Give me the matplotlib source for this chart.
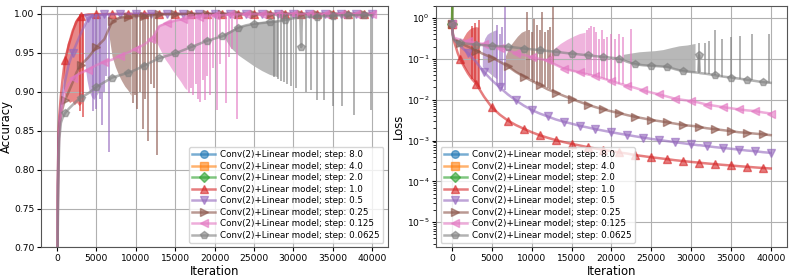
import matplotlib
matplotlib.use("Agg")
import matplotlib.pyplot as plt

STEPS = ["8.0", "4.0", "2.0", "1.0", "0.5", "0.25", "0.125", "0.0625"]
MARKERS = ["o", "s", "D", "^", "v", ">", "<", "p"]
COLORS = ["tab:blue", "tab:orange", "tab:green", "tab:red", "tab:purple",
          "tab:brown", "tab:pink", "tab:gray"]
# which thousands carry a marker (odd / even), None = only the first point
MARK_PARITY = [None, None, None, 1, 0, 1, 0, 1]

ITERS = [0, 100, 200, 300, 500, 700, 1000, 1500, 2000, 2500, 3000,
         4000, 5000, 6000, 7000, 8000, 9000, 10000, 11000, 12000, 13000,
         14000, 15000, 16000, 17000, 18000, 19000, 20000, 21000, 22000, 23000,
         24000, 25000, 26000, 27000, 28000, 29000, 30000, 30900, 31000, 31100,
         32000, 33000, 34000, 35000, 36000, 37000, 38000, 39000, 40000]

# diverged runs (step 8, 4, 2)
DIV_ITERS = [0, 100]
DIV_ACC = [0.10, 0.10]
DIV_LOSS = [0.7, 50.0]

# ---------------- accuracy ----------------
ACC_RED = [0.10, 0.78, 0.85, 0.87, 0.895, 0.915, 0.94, 0.96, 0.978, 0.99, 0.997,
           0.999, 0.9993, 0.9995, 0.9997, 0.9997, 0.9997, 0.9997, 0.9997, 0.9997, 0.9997,
           0.9997, 0.9997, 0.9997, 0.9997, 0.9997, 0.9997, 0.9997, 0.9997, 0.9997, 0.9997,
           0.9997, 0.9997, 0.9997, 0.9997, 0.9997, 0.9997, 0.9997, 0.9997, 0.9997, 0.9997,
           0.9997, 0.9997, 0.9997, 0.9997, 0.9997, 0.9997, 0.9997, 0.9997, 0.9997]
ACC_PURPLE = [0.10, 0.78, 0.84, 0.86, 0.88, 0.895, 0.912, 0.935, 0.95, 0.962, 0.974,
              0.995, 0.998, 0.999, 0.9993, 0.9995, 0.9997, 0.9997, 0.9997, 0.9997, 0.9997,
              0.9997, 0.9997, 0.9997, 0.9997, 0.9997, 0.9997, 0.9997, 0.9997, 0.9997, 0.9997,
              0.9997, 0.9997, 0.9997, 0.9997, 0.9997, 0.9997, 0.9997, 0.9997, 0.9997, 0.9997,
              0.9997, 0.9997, 0.9997, 0.9997, 0.9997, 0.9997, 0.9997, 0.9997, 0.9997]
ACC_BROWN = [0.10, 0.76, 0.83, 0.855, 0.87, 0.878, 0.889, 0.90, 0.912, 0.925, 0.934,
             0.944, 0.957, 0.967, 0.99, 0.995, 0.996, 0.997, 0.997, 0.998, 0.999,
             0.9993, 0.9995, 0.9995, 0.9995, 0.9995, 0.9995, 0.9995, 0.9995, 0.9995, 0.9995,
             0.9995, 0.9995, 0.9995, 0.9995, 0.9995, 0.9995, 0.9995, 0.9995, 0.9995, 0.9995,
             0.9995, 0.9995, 0.9995, 0.9995, 0.9995, 0.9995, 0.9995, 0.9995, 0.9995]
ACC_PINK = [0.10, 0.74, 0.82, 0.85, 0.87, 0.885, 0.90, 0.91, 0.917, 0.921, 0.924,
            0.928, 0.934, 0.938, 0.941, 0.946, 0.95, 0.955, 0.96, 0.967, 0.984,
            0.988, 0.991, 0.993, 0.995, 0.996, 0.997, 0.998, 0.998, 0.999, 0.9993,
            0.9995, 0.9995, 0.9995, 0.9995, 0.9995, 0.9995, 0.9995, 0.9995, 0.9995, 0.9995,
            0.9995, 0.9995, 0.9995, 0.9995, 0.9995, 0.9995, 0.9995, 0.9995, 0.9995]
ACC_GRAY = [0.10, 0.72, 0.80, 0.84, 0.86, 0.866, 0.872, 0.878, 0.883, 0.888, 0.892,
            0.898, 0.906, 0.912, 0.918, 0.921, 0.924, 0.928, 0.933, 0.938, 0.943,
            0.946, 0.949, 0.953, 0.957, 0.961, 0.965, 0.968, 0.971, 0.976, 0.982,
            0.985, 0.987, 0.988, 0.989, 0.99, 0.992, 0.994, 0.995, 0.957, 0.995,
            0.996, 0.996, 0.997, 0.997, 0.998, 0.998, 0.998, 0.998, 0.998]

# noisy phases: dense band (iteration, low, high) and single dips (iteration, tip)
ACC_BAND_IT = {
    3: [800, 1000, 1300, 1600, 1900, 2200, 2500, 2800, 3100, 3300],
    4: [3500, 3800, 4100, 4400, 4700, 5000, 5300, 5500],
    5: [6600, 7000, 7400, 7800, 8200, 8600, 9000, 9400],
    6: [12200, 12700, 13200, 13700, 14200, 14700, 15200, 15700, 16200, 16500],
    7: [21200, 22000, 23000, 24000, 25000, 26000, 27000, 28000],
}
ACC_BAND_LO = {
    3: [0.905, 0.895, 0.89, 0.886, 0.888, 0.883, 0.886, 0.882, 0.885, 0.893],
    4: [0.94, 0.915, 0.90, 0.893, 0.89, 0.895, 0.90, 0.91],
    5: [0.972, 0.945, 0.932, 0.922, 0.914, 0.907, 0.902, 0.895],
    6: [0.967, 0.962, 0.952, 0.942, 0.935, 0.927, 0.92, 0.913, 0.905, 0.902],
    7: [0.97, 0.957, 0.947, 0.94, 0.933, 0.927, 0.922, 0.919],
}
ACC_BAND_HI = {
    3: [0.93, 0.945, 0.962, 0.97, 0.98, 0.99, 0.995, 0.998, 0.999, 0.999],
    4: [0.985, 0.993, 0.997, 0.999, 1.0, 1.0, 1.0, 1.0],
    5: [0.985, 0.992, 0.995, 0.996, 0.997, 0.997, 0.998, 0.998],
    6: [0.97, 0.984, 0.987, 0.989, 0.99, 0.992, 0.993, 0.994, 0.995, 0.995],
    7: [0.975, 0.979, 0.984, 0.986, 0.988, 0.99, 0.991, 0.992],
}
ACC_SPK_IT = {
    3: [2950, 3350],
    4: [4600, 5000, 5400, 5700, 5950, 6200, 6550],
    5: [9600, 9900, 10200, 10500, 10900, 11200, 11550, 11900, 12300, 12750],
    6: [16700, 17000, 17300, 17600, 17900, 18200, 18500, 18800, 19100, 19400,
        19800, 20300, 20700, 21400, 21800, 22200, 22850],
    7: [27600, 28000, 28400, 28800, 29200, 29700, 30300, 31600, 32200, 33000,
        33900, 35000, 36200, 37700, 39900],
}
ACC_SPK_TIP = {
    3: [0.875, 0.868],
    4: [0.875, 0.878, 0.89, 0.857, 0.90, 0.92, 0.823],
    5: [0.885, 0.895, 0.878, 0.90, 0.852, 0.89, 0.837, 0.91, 0.905, 0.819],
    6: [0.898, 0.905, 0.895, 0.91, 0.89, 0.887, 0.915, 0.889, 0.92, 0.895,
        0.93, 0.876, 0.935, 0.885, 0.945, 0.955, 0.865],
    7: [0.919, 0.916, 0.914, 0.912, 0.91, 0.907, 0.905, 0.90, 0.902, 0.889,
        0.889, 0.882, 0.881, 0.87, 0.876],
}

# ---------------- loss ----------------
LOSS_RED = [0.7, 0.4, 0.3, 0.25, 0.19, 0.14, 0.1, 0.065, 0.044, 0.032, 0.025,
            0.012, 6.5e-3, 4.3e-3, 3.1e-3, 2.4e-3, 1.95e-3, 1.6e-3, 1.35e-3, 1.17e-3, 1.03e-3,
            9.2e-4, 8.3e-4, 7.6e-4, 6.9e-4, 6.4e-4, 5.9e-4, 5.5e-4, 5.1e-4, 4.8e-4, 4.4e-4,
            4.15e-4, 3.9e-4, 3.7e-4, 3.5e-4, 3.3e-4, 3.15e-4, 3.0e-4, 2.89e-4, 2.87e-4, 2.86e-4,
            2.75e-4, 2.64e-4, 2.54e-4, 2.45e-4, 2.36e-4, 2.28e-4, 2.2e-4, 2.13e-4, 2.07e-4]
LOSS_PURPLE = [0.7, 0.4, 0.32, 0.3, 0.27, 0.24, 0.21, 0.17, 0.14, 0.11, 0.085,
               0.048, 0.03, 0.02, 0.0135, 0.0097, 0.0072, 0.0056, 0.0046, 0.0039, 0.0033,
               0.0029, 0.0026, 0.0023, 0.0021, 0.0019, 0.00175, 0.0016, 0.00148, 0.00137, 0.00127,
               0.00118, 0.0011, 0.00103, 0.00097, 0.00091, 0.00086, 0.00081, 0.00077, 0.00077, 0.00077,
               0.00073, 0.00069, 0.00066, 0.00063, 0.0006, 0.00057, 0.00055, 0.00052, 0.0005]
LOSS_BROWN = [0.7, 0.4, 0.33, 0.31, 0.29, 0.27, 0.25, 0.22, 0.2, 0.18, 0.16,
              0.13, 0.108, 0.085, 0.066, 0.048, 0.037, 0.029, 0.023, 0.018, 0.015,
              0.0125, 0.0105, 0.0089, 0.0076, 0.0066, 0.0058, 0.0052, 0.0047, 0.0042, 0.0038,
              0.0035, 0.0032, 0.003, 0.0028, 0.0026, 0.0024, 0.0023, 0.0022, 0.00215, 0.00214,
              0.002, 0.0019, 0.0018, 0.0017, 0.0016, 0.00155, 0.00148, 0.00142, 0.00136]
LOSS_PINK = [0.7, 0.4, 0.34, 0.33, 0.32, 0.31, 0.3, 0.28, 0.27, 0.26, 0.25,
             0.23, 0.21, 0.19, 0.165, 0.14, 0.125, 0.112, 0.1, 0.092, 0.072,
             0.058, 0.052, 0.047, 0.042, 0.038, 0.033, 0.029, 0.025, 0.022, 0.0195,
             0.017, 0.015, 0.0135, 0.012, 0.0106, 0.0099, 0.0093, 0.0086, 0.0085, 0.0084,
             0.0076, 0.0071, 0.0066, 0.0062, 0.0058, 0.0055, 0.0053, 0.0049, 0.0046]
LOSS_GRAY = [0.7, 0.35, 0.3, 0.28, 0.26, 0.25, 0.245, 0.24, 0.235, 0.23, 0.225,
             0.218, 0.21, 0.205, 0.2, 0.19, 0.18, 0.172, 0.164, 0.157, 0.15,
             0.142, 0.135, 0.129, 0.123, 0.117, 0.112, 0.107, 0.102, 0.085, 0.074,
             0.07, 0.068, 0.066, 0.064, 0.056, 0.05, 0.048, 0.046, 0.123, 0.045,
             0.043, 0.04, 0.037, 0.035, 0.033, 0.031, 0.029, 0.027, 0.026]

LOSS_BAND_IT = {
    3: [900, 1200, 1500, 1800, 2100, 2400, 2700, 3000, 3300],
    4: [3800, 4100, 4400, 4700, 5000, 5300, 5600],
    5: [6700, 7200, 7700, 8200, 8700, 9200],
    6: [12000, 12800, 13600, 14400, 15200, 16000, 16700],
    7: [21500, 22500, 23500, 24500, 25500, 26500, 27500, 28500, 29500, 30500],
}
LOSS_BAND_LO = {
    3: [0.11, 0.08, 0.065, 0.052, 0.042, 0.035, 0.03, 0.025, 0.021],
    4: [0.065, 0.058, 0.05, 0.045, 0.04, 0.036, 0.033],
    5: [0.075, 0.062, 0.052, 0.045, 0.04, 0.035],
    6: [0.092, 0.075, 0.063, 0.056, 0.05, 0.047, 0.043],
    7: [0.095, 0.08, 0.072, 0.069, 0.067, 0.065, 0.06, 0.053, 0.049, 0.047],
}
LOSS_BAND_HI = {
    3: [0.2, 0.28, 0.36, 0.45, 0.52, 0.58, 0.6, 0.62, 0.6],
    4: [0.2, 0.32, 0.4, 0.44, 0.47, 0.5, 0.52],
    5: [0.12, 0.2, 0.27, 0.36, 0.45, 0.5],
    6: [0.12, 0.18, 0.24, 0.3, 0.36, 0.42, 0.45],
    7: [0.13, 0.14, 0.15, 0.155, 0.16, 0.17, 0.19, 0.21, 0.22, 0.24],
}
LOSS_SPK_IT = {
    3: [2500, 2900, 3350],
    4: [5700, 6000, 6300, 6600],
    5: [9400, 9700, 10000, 10300, 10700, 11000, 11300, 11700, 12000, 12300, 12700],
    6: [16900, 17200, 17500, 17800, 18100, 18500, 18800, 19100, 19500, 19900,
        20400, 21000, 21500, 22400],
    7: [31000, 31700, 32300, 33000, 33900, 35000, 36200, 37700, 39800],
}
LOSS_SPK_BASE = {
    3: [0.033, 0.027, 0.02],
    4: [0.026, 0.022, 0.019, 0.017],
    5: [0.034, 0.032, 0.03, 0.028, 0.026, 0.024, 0.022, 0.02, 0.019, 0.018, 0.016],
    6: [0.042, 0.041, 0.04, 0.039, 0.037, 0.036, 0.035, 0.033, 0.031, 0.029,
        0.027, 0.025, 0.024, 0.021],
    7: [0.045, 0.044, 0.042, 0.04, 0.037, 0.035, 0.032, 0.03, 0.026],
}
LOSS_SPK_TIP = {
    3: [0.65, 0.75, 0.9],
    4: [0.67, 0.42, 0.6, 1.9],
    5: [1.4, 0.5, 0.45, 0.95, 0.67, 0.5, 1.4, 0.45, 0.5, 0.6, 2.5],
    6: [0.5, 0.56, 0.65, 0.6, 0.45, 0.3, 0.5, 0.31, 0.35, 0.42, 0.3, 0.42, 0.35, 0.55],
    7: [0.25, 0.25, 0.27, 0.51, 0.3, 0.35, 0.36, 0.42, 0.42],
}

ACC = [DIV_ACC, DIV_ACC, DIV_ACC, ACC_RED, ACC_PURPLE, ACC_BROWN, ACC_PINK, ACC_GRAY]
LOSS = [DIV_LOSS, DIV_LOSS, DIV_LOSS, LOSS_RED, LOSS_PURPLE, LOSS_BROWN, LOSS_PINK, LOSS_GRAY]

ALPHA = 0.6
plt.rcParams["font.family"] = "DejaVu Sans"
plt.rcParams["font.size"] = 7


def mark_idx(its, parity):
    if parity is None:
        return [0]
    return [0] + [k for k, t in enumerate(its)
                  if t >= 1000 and t % 1000 == 0 and (t // 1000) % 2 == parity]


def draw(ax, values, band_it, band_lo, band_hi, spk_it, spk_lo, spk_hi):
    for i in range(8):
        its = DIV_ITERS if i < 3 else ITERS
        c = COLORS[i]
        if i in band_it:
            ax.fill_between(band_it[i], band_lo[i], band_hi[i], color=c,
                            alpha=0.55, lw=0)
            lo = spk_lo[i] if isinstance(spk_lo, dict) else [spk_lo] * len(spk_it[i])
            hi = spk_hi[i] if isinstance(spk_hi, dict) else [spk_hi] * len(spk_it[i])
            ax.vlines(spk_it[i], lo, hi, color=c, alpha=ALPHA, lw=1.4)
        ax.plot(its, values[i], color=c, marker=MARKERS[i], markersize=5.5,
                markevery=mark_idx(its, MARK_PARITY[i]), lw=1.8, alpha=ALPHA,
                label="Conv(2)+Linear model; step: " + STEPS[i])
    ax.grid(True, color="#b0b0b0", lw=0.8)
    ax.set_xlabel("Iteration", fontsize=8.4, labelpad=1)
    ax.tick_params(labelsize=6.6, length=3, pad=2)
    for sp in ax.spines.values():
        sp.set_color("#555555")


fig = plt.figure(figsize=(7.93, 2.79), dpi=100)
ax1 = fig.add_axes([0.052, 0.113, 0.437, 0.866])
ax2 = fig.add_axes([0.550, 0.113, 0.442, 0.866])

draw(ax1, ACC, ACC_BAND_IT, ACC_BAND_LO, ACC_BAND_HI, ACC_SPK_IT, ACC_SPK_TIP, 1.0)
ax1.set_ylim(0.70, 1.01)
ax1.set_ylabel("Accuracy", fontsize=8.4, labelpad=1)
ax1.legend(loc="lower right", fontsize=6.3, labelspacing=0.28, borderpad=0.4,
           handlelength=2.6, handletextpad=0.6)

draw(ax2, LOSS, LOSS_BAND_IT, LOSS_BAND_LO, LOSS_BAND_HI, LOSS_SPK_IT, LOSS_SPK_BASE, LOSS_SPK_TIP)
ax2.set_yscale("log")
ax2.set_ylim(2.4e-6, 2.0)
ax2.set_ylabel("Loss", fontsize=8.4, labelpad=1)
ax2.legend(loc="lower left", fontsize=6.3, labelspacing=0.28, borderpad=0.4,
           handlelength=2.6, handletextpad=0.6)

for ax in (ax1, ax2):
    ax.set_xlim(-2000, 42000)

fig.savefig("out.png", dpi=100)
